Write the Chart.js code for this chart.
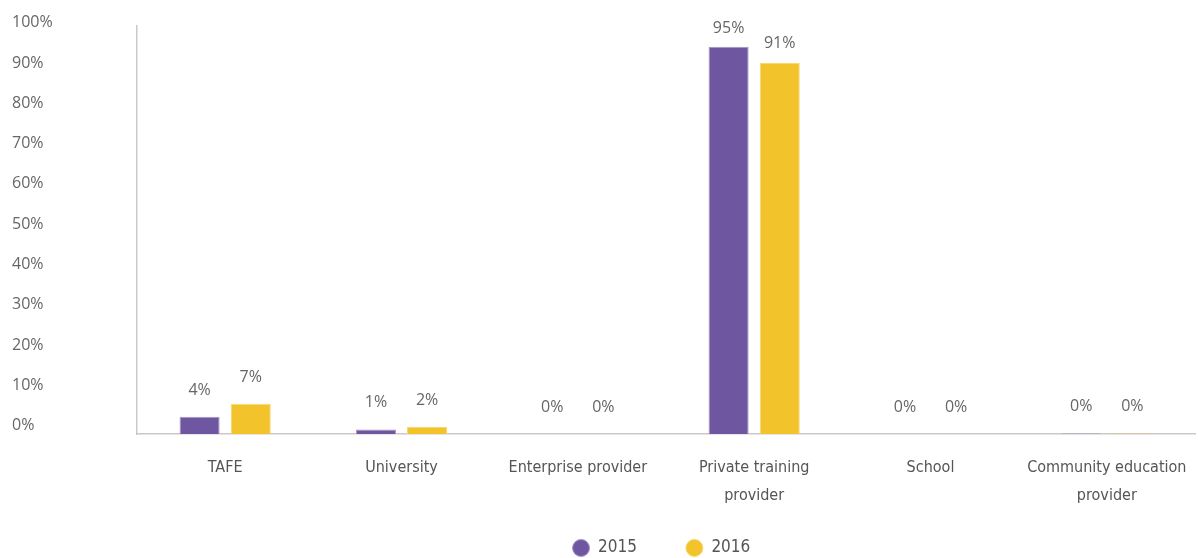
<!DOCTYPE html>
<html>
<head>
<meta charset="utf-8">
<script src="https://cdn.jsdelivr.net/npm/chart.js@4"></script>
<style>
html,body{margin:0;padding:0;background:#fff;overflow:hidden;}
#wrap{width:1198px;height:558px;position:relative;}
</style>
</head>
<body>
<div id="wrap"><canvas id="c"></canvas></div>
<script>
const categories = ["TAFE", "University", "Enterprise provider", ["Private training", "provider"], "School", ["Community education", "provider"]];
const seriesNames = ["2015", "2016"];
const values2015 = [4.2, 1.1, 0, 94.9, 0, 0.1];
const values2016 = [7.4, 1.7, 0, 91, 0, 0.1];
const yTicks = [0, 10, 20, 30, 40, 50, 60, 70, 80, 90, 100];

const narrowFont = '"Liberation Sans Narrow", "DejaVu Sans Condensed", Roboto, sans-serif';

const valueLabels = {
  id: 'valueLabels',
  afterDatasetsDraw(chart) {
    const ctx = chart.ctx;
    ctx.save();
    ctx.font = '16px "Open Sans", sans-serif';
    ctx.fillStyle = '#666';
    ctx.textAlign = 'center';
    ctx.textBaseline = 'middle';
    chart.data.datasets.forEach((ds, di) => {
      const meta = chart.getDatasetMeta(di);
      meta.data.forEach((bar, i) => {
        const v = ds.data[i];
        const y = bar.y - 27 + (bar.base - bar.y) * 0.0215;
        ctx.fillText(Math.round(v) + '%', bar.x, y);
      });
    });
    ctx.restore();
  }
};

const legendGaps = ['\u2002\u2002\u2002', '\u2002\u200A'];

new Chart(document.getElementById('c'), {
  type: 'bar',
  data: {
    labels: categories,
    datasets: [
      { label: seriesNames[0], data: values2015, backgroundColor: '#6e57a0', borderColor: '#a497c8', borderWidth: 1 },
      { label: seriesNames[1], data: values2016, backgroundColor: '#f2c32a', borderColor: '#f6d873', borderWidth: 1 }
    ]
  },
  options: {
    responsive: true,
    maintainAspectRatio: false,
    animation: false,
    categoryPercentage: 0.58,
    barPercentage: 0.784,
    layout: { padding: { left: 12, right: 3, top: 26, bottom: -8.5 } },
    scales: {
      x: {
        grid: { display: false, drawTicks: true, tickLength: 19 },
        border: { display: true, color: '#c9c9c9', width: 1.5 },
        ticks: {
          padding: 0,
          color: '#555',
          maxRotation: 0,
          autoSkip: false,
          font: { family: narrowFont, size: 16, lineHeight: 1.8 }
        },
        afterFit(scale) { scale.height = 79.5; }
      },
      y: {
        min: 0, max: 100,
        weight: 0,
        grid: { display: false, drawTicks: false },
        border: { display: true, color: '#c9c9c9', width: 1.5 },
        ticks: { display: false },
        afterFit(scale) { scale.width = 0; }
      },
      yLabels: {
        position: 'left',
        weight: 1,
        min: -2.1, max: 99.2,
        grid: { display: false, drawTicks: false },
        border: { display: false },
        afterBuildTicks(scale) { scale.ticks = yTicks.map(v => ({ value: v })); },
        ticks: {
          crossAlign: 'far',
          color: '#666',
          font: { family: '"Open Sans", sans-serif', size: 16 },
          callback: v => v + '%'
        },
        afterFit(scale) { scale.width = 125; }
      }
    },
    plugins: {
      legend: {
        position: 'bottom',
        fullSize: false,
        labels: {
          usePointStyle: true,
          pointStyle: 'circle',
          boxWidth: 17,
          boxHeight: 12,
          padding: 26,
          color: '#555',
          font: { family: narrowFont, size: 17 },
          generateLabels(chart) {
            const items = Chart.defaults.plugins.legend.labels.generateLabels(chart);
            items.forEach((it, i) => { it.text = it.text + legendGaps[i]; });
            return items;
          }
        }
      },
      tooltip: { enabled: false }
    }
  },
  plugins: [valueLabels]
});
</script>
</body>
</html>
